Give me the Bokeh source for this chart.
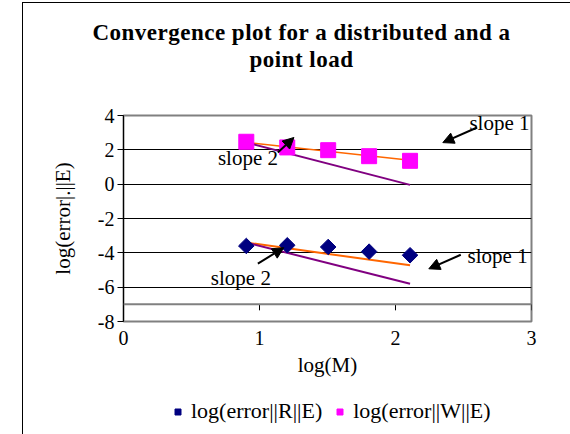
import numpy as np
from bokeh.plotting import figure
from bokeh.layouts import column
from bokeh.models import (FixedTicker, Span, Label, Arrow, NormalHead, Legend,
                          LegendItem, Div)
from bokeh.embed import file_html
from bokeh.resources import INLINE

# ---- data ----
log_M = [0.903, 1.204, 1.505, 1.806, 2.107]
log_err_R = [-3.60, -3.56, -3.66, -3.93, -4.14]
log_err_W = [2.47, 2.14, 1.98, 1.63, 1.36]

slope_x = [0.903, 2.107]
W_slope1 = [2.43, 1.40]
W_slope2 = [2.43, -0.04]
R_slope1 = [-3.40, -4.73]
R_slope2 = [-3.40, -5.80]

x_ticks = [0, 1, 2, 3]
y_ticks = [-8, -6, -4, -2, 0, 2, 4]
x_axis_cross = -7

title_lines = ["Convergence plot for a distributed and a", "point load"]
series_names = ["log(error||R||E)", "log(error||W||E)"]

# annotations: (text, x, y, align)
slope_labels = [("slope 1", 2.985, 3.59, "right"), ("slope 2", 0.694, 1.55, "left"),
                ("slope 1", 2.53, -4.17, "left"), ("slope 2", 0.642, -5.45, "left")]
# arrows: (x_start, y_start, x_end, y_end)
slope_arrows = [(2.60, 3.30, 2.348, 2.42), (1.135, 1.84, 1.253, 2.72),
                (2.48, -4.11, 2.245, -4.93), (0.988, -4.63, 1.178, -3.70)]

FONT = "Liberation Serif"
R_STYLE = dict(marker="square", angle=np.pi / 4, size=11,
               fill_color="#000080", line_color="#000080")
W_STYLE = dict(marker="square", size=15, fill_color="#FF00FF", line_color="#FF00FF")

# ---- title block ----
title_div = Div(
    text=('<div style="width:547px; padding-top:11px; text-align:center; '
          'font-family:\'Liberation Serif\'; font-weight:bold; font-size:23px; '
          'line-height:27px; letter-spacing:0.5px; color:black;">'
          + "<br>".join(title_lines) + "</div>"),
    width=547, height=70)

# ---- main chart ----
p = figure(width=547, height=307, frame_width=408, frame_height=206,
           x_range=(0, 3), y_range=(-8, 4), title=None,
           output_backend="svg", toolbar_location=None,
           min_border_left=100, min_border_right=39,
           min_border_top=32, min_border_bottom=69)

p.background_fill_color = "white"
p.border_fill_color = "white"
p.outline_line_color = "#808080"
p.outline_line_width = 2

# grid
p.xgrid.visible = False
p.ygrid.ticker = FixedTicker(ticks=[t for t in y_ticks if -8 < t < 4])
p.ygrid.grid_line_color = "black"
p.ygrid.grid_line_width = 1

# axes
p.xaxis.ticker = FixedTicker(ticks=x_ticks)
p.yaxis.ticker = FixedTicker(ticks=y_ticks)
p.yaxis.major_label_overrides = {t: str(t) for t in y_ticks}
for ax in (p.xaxis[0], p.yaxis[0]):
    ax.major_label_text_font = FONT
    ax.major_label_text_font_size = "20px"
    ax.major_label_text_color = "black"
    ax.axis_label_text_font = FONT
    ax.axis_label_text_font_size = "21px"
    ax.axis_label_text_font_style = "normal"
    ax.axis_label_text_color = "black"
    ax.minor_tick_line_color = None

p.xaxis.axis_label = "log(M)"
p.xaxis.axis_line_color = None
p.xaxis.major_tick_line_color = None
p.xaxis.major_tick_out = 0
p.xaxis.major_tick_in = 0
p.xaxis.major_label_standoff = 9
p.xaxis.axis_label_standoff = 5

p.yaxis.axis_label = "log(error|.||E)"
p.yaxis.axis_line_color = "black"
p.yaxis.major_tick_line_color = "black"
p.yaxis.major_tick_out = 6
p.yaxis.major_tick_in = 0
p.yaxis.major_label_standoff = 3
p.yaxis.axis_label_standoff = 20

# horizontal axis line crossing at -7 with hanging ticks
p.add_layout(Span(location=x_axis_cross, dimension="width",
                  line_color="#808080", line_width=2))
tick_len = 0.35
tx = [t for t in x_ticks if t > 0]
p.segment(x0=tx, y0=[x_axis_cross] * len(tx), x1=tx,
          y1=[x_axis_cross - tick_len] * len(tx), line_color="black", line_width=1)

# slope lines
p.line(slope_x, W_slope1, line_color="#FF6600", line_width=1.5)
p.line(slope_x, W_slope2, line_color="#800080", line_width=2)
p.line(slope_x, R_slope1, line_color="#FF6600", line_width=2)
p.line(slope_x, R_slope2, line_color="#800080", line_width=2)

# data markers
p.scatter(log_M, log_err_R, **R_STYLE)
p.scatter(log_M, log_err_W, **W_STYLE)

# slope annotations
for txt, lx, ly, al in slope_labels:
    p.add_layout(Label(x=lx, y=ly, text=txt, text_font=FONT,
                       text_font_size="21px", text_baseline="middle",
                       text_align=al, text_color="black"))
for xs, ys, xe, ye in slope_arrows:
    p.add_layout(Arrow(x_start=xs, y_start=ys, x_end=xe, y_end=ye,
                       line_color="black", line_width=2,
                       end=NormalHead(size=11, fill_color="black",
                                      line_color="black")))

# ---- legend strip under the chart ----
lg = figure(width=547, height=54, x_range=(0, 1), y_range=(0, 1),
            x_axis_location=None, y_axis_location=None, title=None,
            output_backend="svg", toolbar_location=None, min_border=0)
lg.outline_line_color = None
lg.grid.visible = False
lg.background_fill_color = "white"
lg.border_fill_color = "white"
# same series (out of this strip's view) so the legend shows their markers
lR = lg.scatter(log_M, log_err_R, **R_STYLE)
lW = lg.scatter(log_M, log_err_W, **W_STYLE)
legend = Legend(items=[LegendItem(label=series_names[0], renderers=[lR]),
                       LegendItem(label=series_names[1], renderers=[lW])],
                orientation="horizontal", location=(47, 20),
                label_text_font=FONT, label_text_font_size="22px",
                label_text_color="black", border_line_color=None,
                background_fill_alpha=0, glyph_width=15, glyph_height=15,
                label_standoff=6, spacing=10, padding=4, margin=0)
lg.add_layout(legend, "center")

layout = column(title_div, p, lg, spacing=0,
                styles={"position": "relative", "left": "22px", "top": "2px",
                        "border-left": "1px solid black",
                        "border-top": "1px solid black"})

open("out.html", "w").write(file_html(layout, INLINE))
